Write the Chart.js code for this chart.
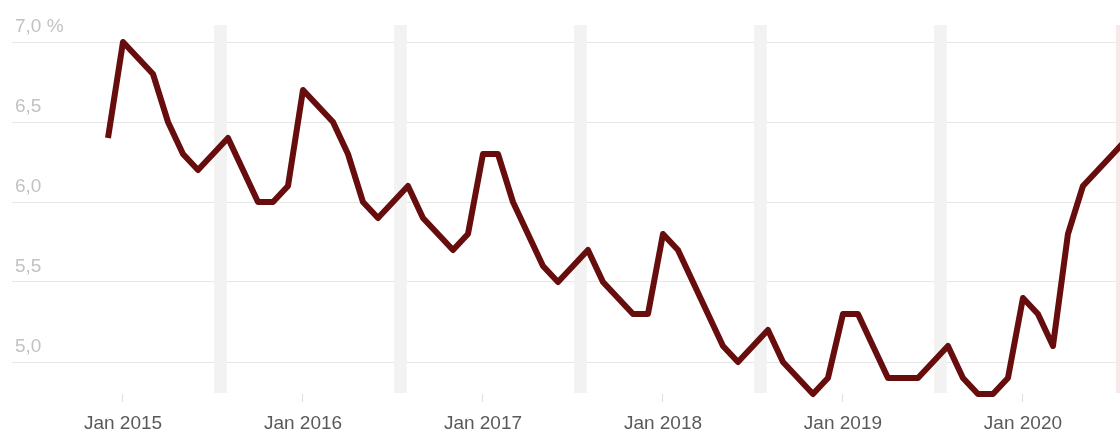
<!DOCTYPE html>
<html lang="de">
<head>
  <meta charset="UTF-8" />
  <title>Arbeitslosenquote</title>
  <script src="https://cdn.jsdelivr.net/npm/chart.js"></script>
  <style>
    body { margin: 0; background: #fff; }
    .wrap { width: 1120px; height: 434px; }
  </style>
</head>
<body>
  <div class="wrap"><canvas id="rateChart"></canvas></div>

  <script>
    // monthly values, Dec 2014 .. Aug 2020
    const startMonth = -1; // Dec 2014, relative to Jan 2015
    const rates = [
      6.4,
      7.0, 6.9, 6.8, 6.5, 6.3, 6.2, 6.3, 6.4, 6.2, 6.0, 6.0, 6.1,
      6.7, 6.6, 6.5, 6.3, 6.0, 5.9, 6.0, 6.1, 5.9, 5.8, 5.7, 5.8,
      6.3, 6.3, 6.0, 5.8, 5.6, 5.5, 5.6, 5.7, 5.5, 5.4, 5.3, 5.3,
      5.8, 5.7, 5.5, 5.3, 5.1, 5.0, 5.1, 5.2, 5.0, 4.9, 4.8, 4.9,
      5.3, 5.3, 5.1, 4.9, 4.9, 4.9, 5.0, 5.1, 4.9, 4.8, 4.8, 4.9,
      5.4, 5.3, 5.1, 5.8, 6.1, 6.2, 6.3, 6.4
    ];
    const xTicks = [0, 12, 24, 36, 48, 60];
    const xTickLabels = ['Jan 2015', 'Jan 2016', 'Jan 2017', 'Jan 2018', 'Jan 2019', 'Jan 2020'];
    const yTicks = [5.0, 5.5, 6.0, 6.5, 7.0];
    const yTickLabels = ['5,0', '5,5', '6,0', '6,5', '7,0 %'];
    // shaded mid-year bands (month index) and the current-month marker
    const bandCenters = [6.5, 18.5, 30.5, 42.5, 54.5];
    const currentBand = 66.2;

    const bandPlugin = {
      id: 'bands',
      beforeDatasetsDraw(chart) {
        const { ctx, chartArea, scales } = chart;
        const x = scales.x;
        ctx.save();
        ctx.fillStyle = '#f2f2f2';
        bandCenters.forEach(c => {
          const l = x.getPixelForValue(c - 0.42);
          const r = x.getPixelForValue(c + 0.42);
          ctx.fillRect(l, chartArea.top, r - l, chartArea.bottom - chartArea.top - 1);
        });
        ctx.fillStyle = '#f7e8ea';
        const cl = x.getPixelForValue(currentBand);
        ctx.fillRect(cl, chartArea.top, chartArea.right - cl + 2, chartArea.bottom - chartArea.top - 1);
        ctx.restore();
      }
    };

    const ctx = document.getElementById('rateChart').getContext('2d');
    new Chart(ctx, {
      type: 'line',
      data: {
        datasets: [{
          data: rates.map((v, i) => ({ x: startMonth + i, y: v })),
          borderColor: '#670d0d',
          borderWidth: 6,
          borderJoinStyle: 'round',
          pointRadius: 0,
          tension: 0,
          fill: false,
          clip: { left: 0, top: 8, right: 0, bottom: 8 }
        }]
      },
      options: {
        responsive: true,
        maintainAspectRatio: false,
        animation: false,
        layout: { padding: { left: 12, top: 25, right: 0, bottom: 0 } },
        plugins: { legend: { display: false }, tooltip: { enabled: false } },
        scales: {
          x: {
            type: 'linear',
            min: -7.4,
            max: 66.47,
            afterBuildTicks: s => { s.ticks = xTicks.map(v => ({ value: v })); },
            afterFit: s => { s.height = 40; },
            grid: { display: true, drawOnChartArea: false, drawTicks: true, tickLength: 8, color: '#dddddd' },
            border: { display: false },
            ticks: {
              padding: 10,
              maxRotation: 0,
              color: '#5a5a5a',
              font: { family: 'Liberation Sans, Arial, sans-serif', size: 19 },
              callback: v => xTickLabels[xTicks.indexOf(v)]
            }
          },
          y: {
            min: 4.8,
            max: 7.10625,
            afterBuildTicks: s => { s.ticks = yTicks.map(v => ({ value: v })); },
            afterFit: s => { s.width = 0; },
            grid: { color: '#e6e6e6', lineWidth: 1, drawTicks: false },
            border: { display: false },
            ticks: {
              mirror: true,
              padding: 3,
              labelOffset: -15,
              color: '#c2c2c2',
              font: { family: 'Liberation Sans, Arial, sans-serif', size: 19 },
              callback: v => yTickLabels[yTicks.indexOf(v)]
            }
          }
        }
      },
      plugins: [bandPlugin]
    });
  </script>
</body>
</html>
